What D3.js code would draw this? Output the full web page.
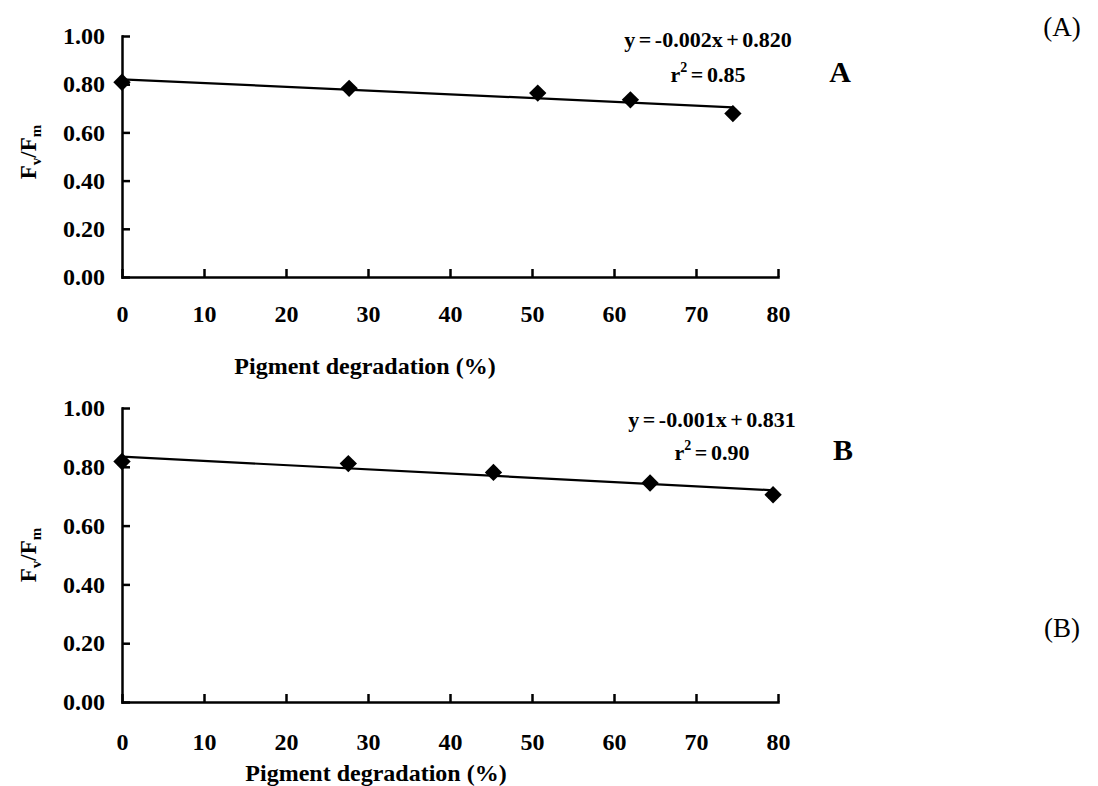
<!DOCTYPE html>
<html>
<head>
<meta charset="utf-8">
<script src="https://cdn.jsdelivr.net/npm/d3@7"></script>
<style>
  body { margin: 0; background: #fff; }
  svg { display: block; }
  svg text { font-family: "Liberation Serif", "Times New Roman", serif; }
</style>
</head>
<body>
<svg id="chart" width="1098" height="786"></svg>
<script>
// panel A data
const degradationA = [0, 27.7, 50.7, 62.0, 74.5];
const fvfmA = [0.808, 0.783, 0.763, 0.735, 0.678];
const errA = [0.008, 0, 0, 0, 0];

// panel B data
const degradationB = [0, 27.6, 45.3, 64.4, 79.4];
const fvfmB = [0.818, 0.811, 0.781, 0.745, 0.705];
const errB = [0.010, 0, 0, 0, 0.010];

const xTicks = [0, 10, 20, 30, 40, 50, 60, 70, 80];
const yTicks = [0, 0.2, 0.4, 0.6, 0.8, 1.0];

const svg = d3.select('#chart');

// simple least squares, like the spreadsheet trendline
function fit(xs, ys) {
  const mx = d3.mean(xs), my = d3.mean(ys);
  let sxy = 0, sxx = 0;
  xs.forEach((x, i) => { sxy += (x - mx) * (ys[i] - my); sxx += (x - mx) * (x - mx); });
  const b = sxy / sxx;
  return { slope: b, intercept: my - b * mx };
}

function drawPanel(opts) {
  const { xs, ys, errs, top, bottom, xPad, eq, r2, letter, eqX, eqY, r2Y, letterX, titleX, titleY, yTitleY, tag, tagY } = opts;
  const left = 122, right = 778;

  const x = d3.scaleLinear().domain([0, 80]).range([left, right]);
  const y = d3.scaleLinear().domain([0, 1]).range([bottom, top]);

  const g = svg.append('g');

  // x axis
  const xAxis = g.append('g')
    .attr('transform', `translate(0,${bottom})`)
    .call(d3.axisBottom(x).tickValues(xTicks).tickSize(-8).tickSizeOuter(0).tickPadding(xPad).tickFormat(d3.format('d')));

  // y axis
  const yAxis = g.append('g')
    .attr('transform', `translate(${left},0)`)
    .call(d3.axisLeft(y).tickValues(yTicks).tickSize(-8).tickSizeOuter(0).tickPadding(17).tickFormat(d3.format('.2f')));

  [xAxis, yAxis].forEach(a => {
    a.attr('font-family', null).attr('font-size', null);
    a.selectAll('text')
      .style('font-family', '"Liberation Serif", "Times New Roman", serif')
      .style('font-size', '24px').style('font-weight', 'bold').attr('fill', '#000');
  });

  g.selectAll('.domain, .tick line').attr('stroke', '#000').attr('stroke-width', 2.5);
  g.selectAll('.domain').attr('stroke-linecap', 'square');

  // trendline
  const f = fit(xs, ys);
  const xMin = d3.min(xs), xMax = d3.max(xs);
  g.append('line')
    .attr('x1', x(xMin)).attr('y1', y(f.intercept + f.slope * xMin))
    .attr('x2', x(xMax)).attr('y2', y(f.intercept + f.slope * xMax))
    .attr('stroke', '#000')
    .attr('stroke-width', 2.2);

  const pts = xs.map((v, i) => ({ x: v, y: ys[i], e: errs[i] }));

  // small error bars
  pts.filter(d => d.e > 0).forEach(d => {
    const cx = x(d.x);
    g.append('line').attr('x1', cx).attr('x2', cx).attr('y1', y(d.y - d.e)).attr('y2', y(d.y + d.e))
      .attr('stroke', '#000').attr('stroke-width', 1.5);
    [d.y - d.e, d.y + d.e].forEach(v => {
      g.append('line').attr('x1', cx - 5).attr('x2', cx + 5).attr('y1', y(v)).attr('y2', y(v))
        .attr('stroke', '#000').attr('stroke-width', 1.5);
    });
  });

  // diamond markers
  g.selectAll('.pt')
    .data(pts)
    .enter()
    .append('path')
    .attr('class', 'pt')
    .attr('d', d3.symbol(d3.symbolSquare, 150))
    .attr('transform', d => `translate(${x(d.x)},${y(d.y)}) rotate(45)`)
    .attr('fill', '#000');

  // equation + r2
  g.append('text')
    .attr('x', eqX).attr('y', eqY)
    .attr('text-anchor', 'middle')
    .style('font-size', '22px').style('font-weight', 'bold')
    .style('word-spacing', '-2px')
    .text(eq);

  const r = g.append('text')
    .attr('x', eqX).attr('y', r2Y)
    .attr('text-anchor', 'middle')
    .style('font-size', '22px').style('font-weight', 'bold')
    .style('word-spacing', '-2px');
  r.append('tspan').text('r');
  r.append('tspan').attr('dy', -10).style('font-size', '14px').text('2');
  r.append('tspan').attr('dy', 10).text(' = ' + r2);

  // panel letter
  g.append('text')
    .attr('x', letterX).attr('y', r2Y)
    .attr('text-anchor', 'middle')
    .style('font-size', '30px').style('font-weight', 'bold')
    .text(letter);

  // x title
  g.append('text')
    .attr('x', titleX).attr('y', titleY)
    .attr('text-anchor', 'middle')
    .style('font-size', '24px').style('font-weight', 'bold')
    .text('Pigment degradation (%)');

  // y title Fv/Fm
  const yt = g.append('text')
    .attr('transform', `translate(36,${yTitleY}) rotate(-90)`)
    .attr('text-anchor', 'middle')
    .style('font-size', '23px').style('font-weight', 'bold');
  yt.append('tspan').text('F');
  yt.append('tspan').attr('dy', 5).style('font-size', '15px').text('v');
  yt.append('tspan').attr('dy', -5).text('/F');
  yt.append('tspan').attr('dy', 5).style('font-size', '15px').text('m');

  // side tag
  svg.append('text')
    .attr('x', 1062).attr('y', tagY)
    .attr('text-anchor', 'middle')
    .style('font-size', '27px')
    .text(tag);
}

drawPanel({
  xs: degradationA, ys: fvfmA, errs: errA,
  top: 36, bottom: 277, xPad: 28,
  eq: 'y = -0.002x + 0.820', r2: '0.85', letter: 'A',
  eqX: 708, eqY: 47, r2Y: 82, letterX: 840,
  titleX: 365, titleY: 374, yTitleY: 152, tag: '(A)', tagY: 36
});

drawPanel({
  xs: degradationB, ys: fvfmB, errs: errB,
  top: 408, bottom: 702, xPad: 31,
  eq: 'y = -0.001x + 0.831', r2: '0.90', letter: 'B',
  eqX: 712, eqY: 427, r2Y: 460, letterX: 843,
  titleX: 376, titleY: 781, yTitleY: 555, tag: '(B)', tagY: 637
});
</script>
</body>
</html>
